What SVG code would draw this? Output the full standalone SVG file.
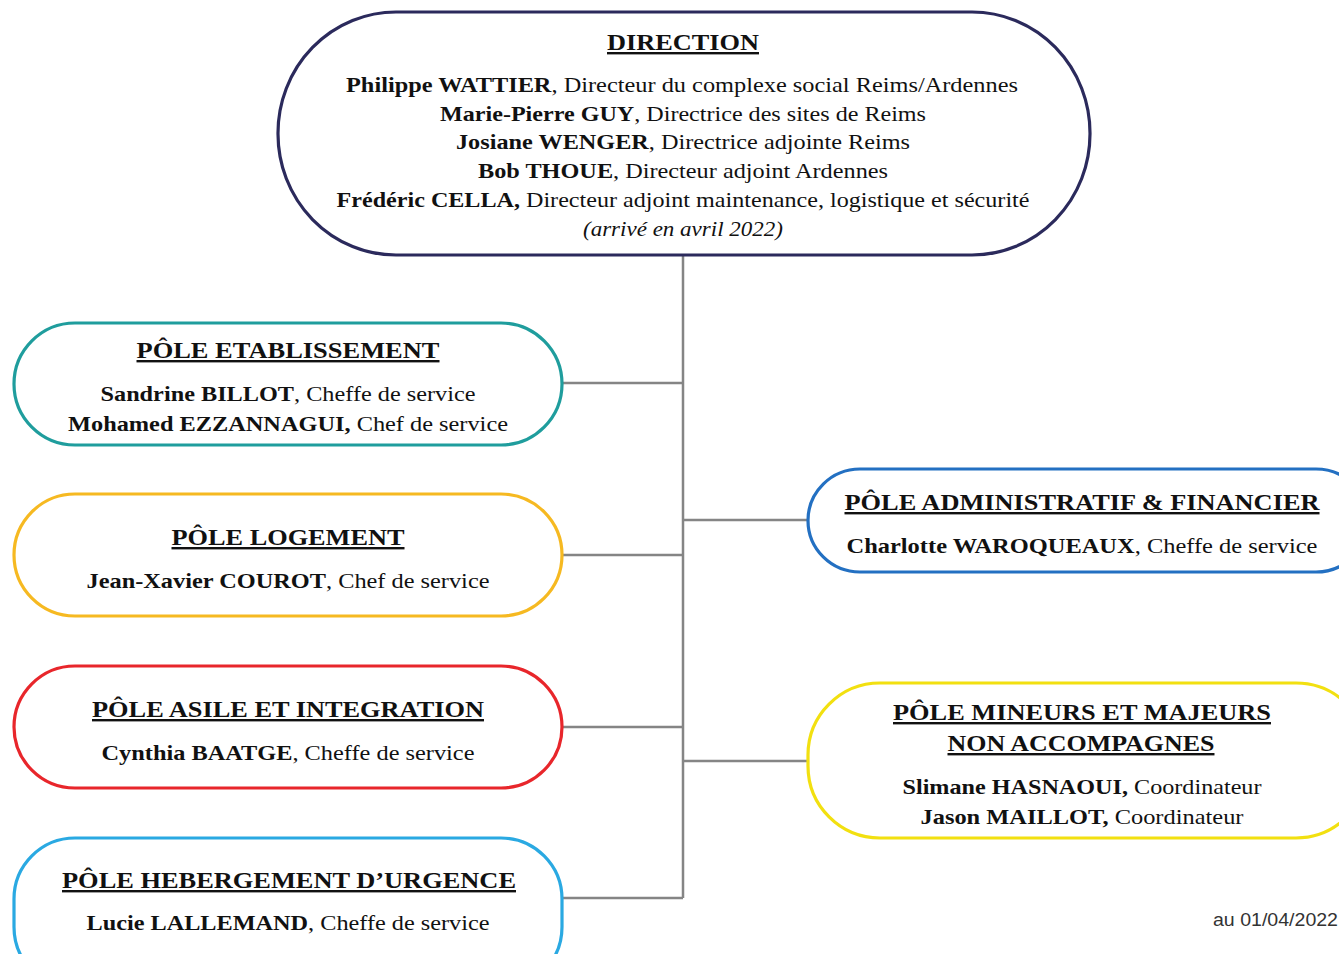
<svg xmlns="http://www.w3.org/2000/svg" width="1339" height="954" viewBox="0 0 1339 954" font-family="Liberation Serif, serif">
<style>
.box{fill:#ffffff;stroke-width:3.2}
.t{font-family:'Liberation Serif','Times New Roman',Times,serif;font-size:22px;fill:#111;text-anchor:middle}
.h{font-weight:bold;text-decoration:underline;font-size:24px}
.b{font-weight:bold}
.i{font-style:italic}
.conn{stroke:#858585;stroke-width:2.5;fill:none}
.note{font-family:'Liberation Sans',Arial,sans-serif;font-size:17.5px;fill:#333}
</style>
<rect width="1339" height="954" fill="#ffffff"/>
<g id="connectors">
<path class="conn" d="M683 255 V898"/>
<path class="conn" d="M562 383 H683"/>
<path class="conn" d="M562 555 H683"/>
<path class="conn" d="M562 727 H683"/>
<path class="conn" d="M562 898 H683"/>
<path class="conn" d="M683 520 H808"/>
<path class="conn" d="M683 761 H808"/>
</g>
<g id="direction">
<rect class="box" x="278" y="12" width="812" height="243" rx="118" ry="121" stroke="#2b2a5c"/>
<text class="t h" x="683" y="50" textLength="152" lengthAdjust="spacingAndGlyphs">DIRECTION</text>
<text class="t" x="682" y="92" textLength="672" lengthAdjust="spacingAndGlyphs"><tspan class="b">Philippe WATTIER</tspan>, Directeur du complexe social Reims/Ardennes</text>
<text class="t" x="683" y="121" textLength="486" lengthAdjust="spacingAndGlyphs"><tspan class="b">Marie-Pierre GUY</tspan>, Directrice des sites de Reims</text>
<text class="t" x="683" y="149" textLength="454" lengthAdjust="spacingAndGlyphs"><tspan class="b">Josiane WENGER</tspan>, Directrice adjointe Reims</text>
<text class="t" x="683" y="178" textLength="410" lengthAdjust="spacingAndGlyphs"><tspan class="b">Bob THOUE</tspan>, Directeur adjoint Ardennes</text>
<text class="t" x="683" y="207" textLength="693" lengthAdjust="spacingAndGlyphs"><tspan class="b">Frédéric CELLA,</tspan> Directeur adjoint maintenance, logistique et sécurité</text>
<text class="t i" x="683" y="236" textLength="200" lengthAdjust="spacingAndGlyphs">(arrivé en avril 2022)</text>
</g>
<g id="pole-etablissement">
<rect class="box" x="14" y="323" width="548" height="122" rx="61" stroke="#1f9d9d"/>
<text class="t h" x="288" y="358" textLength="303" lengthAdjust="spacingAndGlyphs">PÔLE ETABLISSEMENT</text>
<text class="t" x="288" y="401" textLength="375" lengthAdjust="spacingAndGlyphs"><tspan class="b">Sandrine BILLOT</tspan>, Cheffe de service</text>
<text class="t" x="288" y="431" textLength="440" lengthAdjust="spacingAndGlyphs"><tspan class="b">Mohamed EZZANNAGUI,</tspan> Chef de service</text>
</g>
<g id="pole-logement">
<rect class="box" x="14" y="494" width="548" height="122" rx="61" stroke="#f6b921"/>
<text class="t h" x="288" y="545" textLength="233" lengthAdjust="spacingAndGlyphs">PÔLE LOGEMENT</text>
<text class="t" x="288" y="588" textLength="403" lengthAdjust="spacingAndGlyphs"><tspan class="b">Jean-Xavier COUROT</tspan>, Chef de service</text>
</g>
<g id="pole-asile">
<rect class="box" x="14" y="666" width="548" height="122" rx="61" stroke="#e8262b"/>
<text class="t h" x="288" y="717" textLength="392" lengthAdjust="spacingAndGlyphs">PÔLE ASILE ET INTEGRATION</text>
<text class="t" x="288" y="760" textLength="373" lengthAdjust="spacingAndGlyphs"><tspan class="b">Cynthia BAATGE</tspan>, Cheffe de service</text>
</g>
<g id="pole-hebergement">
<rect class="box" x="14" y="838" width="548" height="150" rx="61" ry="61" stroke="#2aa9e2"/>
<text class="t h" x="289" y="888" textLength="454" lengthAdjust="spacingAndGlyphs">PÔLE HEBERGEMENT D’URGENCE</text>
<text class="t" x="288" y="930" textLength="403" lengthAdjust="spacingAndGlyphs"><tspan class="b">Lucie LALLEMAND</tspan>, Cheffe de service</text>
</g>
<g id="pole-administratif">
<rect class="box" x="808" y="469" width="560" height="103" rx="52" stroke="#2370c2"/>
<text class="t h" x="1082" y="510" textLength="475" lengthAdjust="spacingAndGlyphs">PÔLE ADMINISTRATIF &amp; FINANCIER</text>
<text class="t" x="1082" y="553" textLength="471" lengthAdjust="spacingAndGlyphs"><tspan class="b">Charlotte WAROQUEAUX</tspan>, Cheffe de service</text>
</g>
<g id="pole-mineurs">
<rect class="box" x="808" y="683" width="560" height="155" rx="72" stroke="#f2e010"/>
<text class="t h" x="1082" y="720" textLength="378" lengthAdjust="spacingAndGlyphs">PÔLE MINEURS ET MAJEURS</text>
<text class="t h" x="1081" y="751" textLength="267" lengthAdjust="spacingAndGlyphs">NON ACCOMPAGNES</text>
<text class="t" x="1082" y="794" textLength="359" lengthAdjust="spacingAndGlyphs"><tspan class="b">Slimane HASNAOUI,</tspan> Coordinateur</text>
<text class="t" x="1082" y="824" textLength="323" lengthAdjust="spacingAndGlyphs"><tspan class="b">Jason MAILLOT,</tspan> Coordinateur</text>
</g>
<text id="date" class="note" x="1213" y="926" textLength="125" lengthAdjust="spacingAndGlyphs">au 01/04/2022</text>
</svg>
